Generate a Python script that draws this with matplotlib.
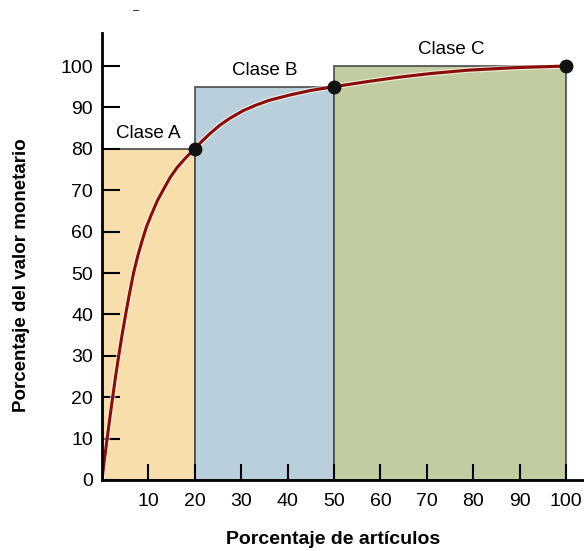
import matplotlib
matplotlib.use('Agg')
import matplotlib.pyplot as plt
import matplotlib.patheffects as pe

# class blocks
class_names = ['Clase A', 'Clase B', 'Clase C']
class_left = [0, 20, 50]
class_width = [20, 30, 50]
class_value = [80, 95, 100]
class_colors = ['#f8deab', '#b9d0dc', '#c1cca1']

# cumulative curve
curve_x = [0, 0.5, 1.1, 1.7, 2.3, 2.9, 3.6, 4.3, 5.1, 5.9, 6.8, 7.7, 8.7, 9.6, 10.6, 11.9, 13.3, 14.7, 16.2, 18.1, 20,
           21.6, 23.3, 25.4, 27.6, 30.4, 33.3, 36, 40.5, 45, 50, 57, 64, 71, 79, 89, 100]
curve_y = [0, 4.7, 10, 15.1, 20, 24.8, 30, 34.9, 40, 44.9, 50, 54.1, 58, 61.2, 64, 67.4, 70.3, 73.1, 75.5, 77.9, 80,
           81.9, 83.7, 85.7, 87.4, 89.2, 90.6, 91.7, 93.0, 94.1, 95, 96.2, 97.3, 98.2, 99.0, 99.6, 100]

# break points
break_x = [20, 50, 100]
break_y = [80, 95, 100]

xticks = [10, 20, 30, 40, 50, 60, 70, 80, 90, 100]
yticks = [0, 10, 20, 30, 40, 50, 60, 70, 80, 90, 100]

plt.rcParams['font.family'] = ['Liberation Sans', 'DejaVu Sans']

fig = plt.figure(figsize=(5.84, 5.51), dpi=100)
ax = fig.add_axes([102 / 584, 1 - 480 / 551, (584 - 102) / 584, (480 - 33) / 551])

ax.bar(class_left, class_value, width=class_width, align='edge',
       color=class_colors, edgecolor='#4a4a4a', linewidth=1.2, zorder=1)

ax.plot(curve_x, curve_y, color='#8b0a0a', lw=2.2, zorder=3,
        solid_capstyle='round', solid_joinstyle='round',
        path_effects=[pe.Stroke(linewidth=4, foreground='#fffaf0', alpha=0.6), pe.Normal()])
ax.plot(break_x, break_y, 'o', color='#111111', ms=9, zorder=4, clip_on=False)

ax.text(9.9, 83.8, class_names[0], ha='center', va='center', fontsize=13.5)
ax.text(35, 99, class_names[1], ha='center', va='center', fontsize=13.5)
ax.text(75.2, 104, class_names[2], ha='center', va='center', fontsize=13.5)

ax.set_xlim(0, (584 - 102) / 4.64)
ax.set_ylim(0, (480 - 33) / 4.14)
ax.set_xticks(xticks)
ax.set_yticks(yticks)
ax.tick_params(axis='y', direction='in', length=13, width=1.5, pad=6.5, labelsize=14)
ax.tick_params(axis='x', direction='in', length=11.5, width=1.5, pad=9, labelsize=14)
for s in ['top', 'right']:
    ax.spines[s].set_visible(False)
for s in ['left', 'bottom']:
    ax.spines[s].set_linewidth(2)
    ax.spines[s].set_zorder(5)

ax.set_xlabel('Porcentaje de artículos', fontsize=14, fontweight='bold', va='center')
ax.xaxis.set_label_coords((333 - 102) / 482, -(540 - 480) / 447)
ax.set_ylabel('Porcentaje del valor monetario', fontsize=13.5, fontweight='bold', va='center')
ax.yaxis.set_label_coords(-(102 - 22) / 482, (480 - 275) / 447)

fig.text(136 / 584, 1 - 10 / 551, '–', ha='center', va='center', fontsize=8)

fig.savefig('out.png', dpi=100)
